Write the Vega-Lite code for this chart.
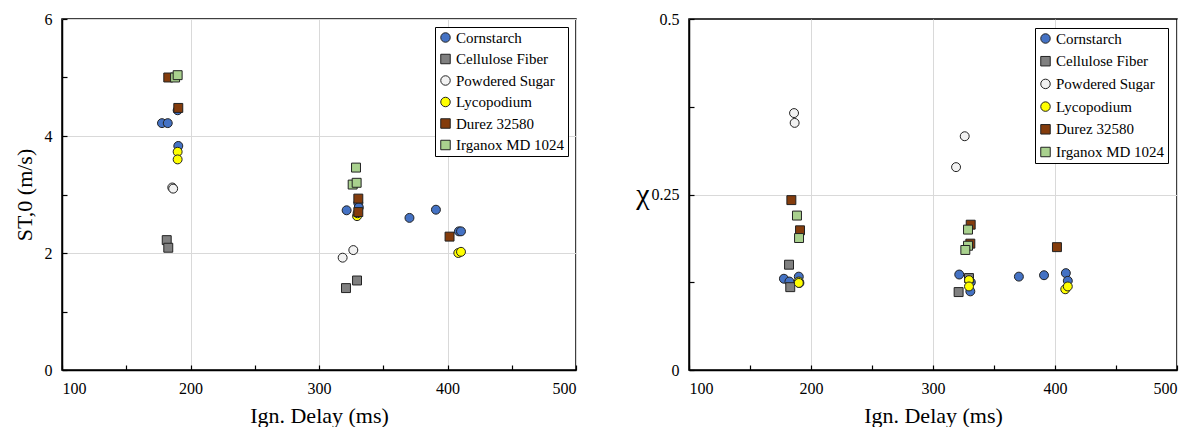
{
  "$schema": "https://vega.github.io/schema/vega-lite/v6.json",
  "padding": {"left": 12, "top": 10, "right": 5, "bottom": 0},
  "background": "white",
  "spacing": 56,
  "datasets": {
    "st": [
      {"material": "Cornstarch", "delay": 177.8, "value": 4.22},
      {"material": "Cornstarch", "delay": 182.3, "value": 4.22},
      {"material": "Cornstarch", "delay": 190.0, "value": 4.44},
      {"material": "Cornstarch", "delay": 190.5, "value": 3.83},
      {"material": "Cornstarch", "delay": 321.5, "value": 2.73},
      {"material": "Cornstarch", "delay": 330.6, "value": 2.85},
      {"material": "Cornstarch", "delay": 331.0, "value": 2.78},
      {"material": "Cornstarch", "delay": 370.4, "value": 2.60},
      {"material": "Cornstarch", "delay": 391.0, "value": 2.74},
      {"material": "Cornstarch", "delay": 408.9, "value": 2.37},
      {"material": "Cornstarch", "delay": 410.5, "value": 2.37},
      {"material": "Cellulose Fiber", "delay": 181.5, "value": 2.22},
      {"material": "Cellulose Fiber", "delay": 182.7, "value": 2.09},
      {"material": "Cellulose Fiber", "delay": 321.0, "value": 1.40},
      {"material": "Cellulose Fiber", "delay": 329.6, "value": 1.53},
      {"material": "Powdered Sugar", "delay": 185.8, "value": 3.12},
      {"material": "Powdered Sugar", "delay": 186.5, "value": 3.10},
      {"material": "Powdered Sugar", "delay": 318.4, "value": 1.92},
      {"material": "Powdered Sugar", "delay": 326.7, "value": 2.05},
      {"material": "Lycopodium", "delay": 190.0, "value": 3.73},
      {"material": "Lycopodium", "delay": 190.0, "value": 3.60},
      {"material": "Lycopodium", "delay": 329.6, "value": 2.63},
      {"material": "Lycopodium", "delay": 330.0, "value": 2.68},
      {"material": "Lycopodium", "delay": 408.4, "value": 2.00},
      {"material": "Lycopodium", "delay": 410.5, "value": 2.02},
      {"material": "Durez 32580", "delay": 182.7, "value": 5.00},
      {"material": "Durez 32580", "delay": 190.5, "value": 4.48},
      {"material": "Durez 32580", "delay": 330.6, "value": 2.93},
      {"material": "Durez 32580", "delay": 330.6, "value": 2.70},
      {"material": "Durez 32580", "delay": 401.6, "value": 2.28},
      {"material": "Irganox MD 1024", "delay": 188.0, "value": 5.00},
      {"material": "Irganox MD 1024", "delay": 190.0, "value": 5.04},
      {"material": "Irganox MD 1024", "delay": 328.8, "value": 3.46},
      {"material": "Irganox MD 1024", "delay": 326.2, "value": 3.17},
      {"material": "Irganox MD 1024", "delay": 329.3, "value": 3.20}
    ],
    "chi": [
      {"material": "Cornstarch", "delay": 177.8, "value": 0.130},
      {"material": "Cornstarch", "delay": 182.3, "value": 0.126},
      {"material": "Cornstarch", "delay": 190.0, "value": 0.133},
      {"material": "Cornstarch", "delay": 190.5, "value": 0.124},
      {"material": "Cornstarch", "delay": 321.5, "value": 0.136},
      {"material": "Cornstarch", "delay": 331.0, "value": 0.125},
      {"material": "Cornstarch", "delay": 330.6, "value": 0.112},
      {"material": "Cornstarch", "delay": 370.4, "value": 0.133},
      {"material": "Cornstarch", "delay": 391.0, "value": 0.135},
      {"material": "Cornstarch", "delay": 408.9, "value": 0.138},
      {"material": "Cornstarch", "delay": 410.5, "value": 0.127},
      {"material": "Cellulose Fiber", "delay": 182.0, "value": 0.150},
      {"material": "Cellulose Fiber", "delay": 183.0, "value": 0.118},
      {"material": "Cellulose Fiber", "delay": 321.0, "value": 0.111},
      {"material": "Cellulose Fiber", "delay": 329.5, "value": 0.131},
      {"material": "Powdered Sugar", "delay": 186.1, "value": 0.366},
      {"material": "Powdered Sugar", "delay": 186.6, "value": 0.352},
      {"material": "Powdered Sugar", "delay": 318.9, "value": 0.289},
      {"material": "Powdered Sugar", "delay": 326.0, "value": 0.333},
      {"material": "Lycopodium", "delay": 190.0, "value": 0.126},
      {"material": "Lycopodium", "delay": 190.0, "value": 0.124},
      {"material": "Lycopodium", "delay": 329.5, "value": 0.128},
      {"material": "Lycopodium", "delay": 329.5, "value": 0.119},
      {"material": "Lycopodium", "delay": 408.4, "value": 0.115},
      {"material": "Lycopodium", "delay": 410.5, "value": 0.119},
      {"material": "Durez 32580", "delay": 183.9, "value": 0.242},
      {"material": "Durez 32580", "delay": 191.0, "value": 0.199},
      {"material": "Durez 32580", "delay": 330.9, "value": 0.207},
      {"material": "Durez 32580", "delay": 330.6, "value": 0.180},
      {"material": "Durez 32580", "delay": 401.6, "value": 0.175},
      {"material": "Irganox MD 1024", "delay": 188.5, "value": 0.220},
      {"material": "Irganox MD 1024", "delay": 190.2, "value": 0.188},
      {"material": "Irganox MD 1024", "delay": 328.7, "value": 0.200},
      {"material": "Irganox MD 1024", "delay": 328.7, "value": 0.177},
      {"material": "Irganox MD 1024", "delay": 326.5, "value": 0.171}
    ]
  },
  "hconcat": [
    {
      "width": 514,
      "height": 351,
      "data": {"name": "st"},
      "mark": {"type": "point", "filled": true, "strokeWidth": 1, "size": 80, "opacity": 1},
      "encoding": {
        "x": {
          "field": "delay", "type": "quantitative",
          "scale": {"domain": [100, 500], "nice": false, "zero": false},
          "axis": {
            "title": "Ign. Delay (ms)",
            "values": [100, 150, 200, 250, 300, 350, 400, 450, 500],
            "labelExpr": "datum.value % 100 == 0 ? datum.label : ''",
            "gridOpacity": {"condition": {"test": "datum.value % 100 == 0", "value": 1}, "value": 0}
          }
        },
        "y": {
          "field": "value", "type": "quantitative",
          "scale": {"domain": [0, 6], "nice": false},
          "axis": {
            "title": "ST,0 (m/s)",
            "titlePadding": 8,
            "values": [0, 1, 2, 3, 4, 5, 6],
            "labelExpr": "datum.value % 2 == 0 ? datum.label : ''",
            "gridOpacity": {"condition": {"test": "datum.value % 2 == 0", "value": 1}, "value": 0}
          }
        },
        "fill": {
          "field": "material", "type": "nominal",
          "scale": {
            "domain": ["Cornstarch", "Cellulose Fiber", "Powdered Sugar", "Lycopodium", "Durez 32580", "Irganox MD 1024"],
            "range": ["#4472C4", "#808080", "#F2F2F2", "#FFFF00", "#843C0C", "#A9D18E"]
          },
          "legend": {"title": null, "labelFont": "Liberation Serif", "labelFontSize": 15, "rowPadding": 5.5, "offset": 8}
        },
        "shape": {
          "field": "material", "type": "nominal",
          "scale": {
            "domain": ["Cornstarch", "Cellulose Fiber", "Powdered Sugar", "Lycopodium", "Durez 32580", "Irganox MD 1024"],
            "range": ["circle", "square", "circle", "circle", "square", "square"]
          },
          "legend": {"title": null, "labelFont": "Liberation Serif", "labelFontSize": 15, "rowPadding": 5.5, "offset": 8}
        },
        "stroke": {
          "field": "material", "type": "nominal",
          "scale": {
            "domain": ["Cornstarch", "Cellulose Fiber", "Powdered Sugar", "Lycopodium", "Durez 32580", "Irganox MD 1024"],
            "range": ["#222222", "#222222", "#222222", "#222222", "#222222", "#222222"]
          },
          "legend": {"title": null, "labelFont": "Liberation Serif", "labelFontSize": 15, "rowPadding": 5.5, "offset": 8}
        }
      }
    },
    {
      "width": 488,
      "height": 351,
      "data": {"name": "chi"},
      "mark": {"type": "point", "filled": true, "strokeWidth": 1, "size": 80, "opacity": 1},
      "encoding": {
        "x": {
          "field": "delay", "type": "quantitative",
          "scale": {"domain": [100, 500], "nice": false, "zero": false},
          "axis": {
            "title": "Ign. Delay (ms)",
            "values": [100, 150, 200, 250, 300, 350, 400, 450, 500],
            "labelExpr": "datum.value % 100 == 0 ? datum.label : ''",
            "gridOpacity": {"condition": {"test": "datum.value % 100 == 0", "value": 1}, "value": 0}
          }
        },
        "y": {
          "field": "value", "type": "quantitative",
          "scale": {"domain": [0, 0.5], "nice": false},
          "axis": {
            "title": "χ",
            "titleAngle": 0,
            "titleFontSize": 30,
            "titleBaseline": "middle",
            "titleAlign": "right",
            "titlePadding": 2,
            "format": ".2~f",
            "values": [0, 0.125, 0.25, 0.375, 0.5],
            "labelExpr": "(datum.value == 0 || datum.value == 0.25 || datum.value == 0.5) ? datum.label : ''",
            "gridOpacity": {"condition": {"test": "datum.value == 0.25", "value": 1}, "value": 0}
          }
        },
        "fill": {
          "field": "material", "type": "nominal",
          "scale": {
            "domain": ["Cornstarch", "Cellulose Fiber", "Powdered Sugar", "Lycopodium", "Durez 32580", "Irganox MD 1024"],
            "range": ["#4472C4", "#808080", "#F2F2F2", "#FFFF00", "#843C0C", "#A9D18E"]
          },
          "legend": {"title": null, "labelFont": "Liberation Serif", "labelFontSize": 15, "rowPadding": 6.7, "offset": 9}
        },
        "shape": {
          "field": "material", "type": "nominal",
          "scale": {
            "domain": ["Cornstarch", "Cellulose Fiber", "Powdered Sugar", "Lycopodium", "Durez 32580", "Irganox MD 1024"],
            "range": ["circle", "square", "circle", "circle", "square", "square"]
          },
          "legend": {"title": null, "labelFont": "Liberation Serif", "labelFontSize": 15, "rowPadding": 6.7, "offset": 9}
        },
        "stroke": {
          "field": "material", "type": "nominal",
          "scale": {
            "domain": ["Cornstarch", "Cellulose Fiber", "Powdered Sugar", "Lycopodium", "Durez 32580", "Irganox MD 1024"],
            "range": ["#222222", "#222222", "#222222", "#222222", "#222222", "#222222"]
          },
          "legend": {"title": null, "labelFont": "Liberation Serif", "labelFontSize": 15, "rowPadding": 6.7, "offset": 9}
        }
      }
    }
  ],
  "resolve": {"scale": {"fill": "independent", "shape": "independent", "stroke": "independent", "x": "independent", "y": "independent"}, "legend": {"fill": "independent", "shape": "independent", "stroke": "independent"}},
  "config": {
    "view": {"stroke": "black", "strokeWidth": 1.5},
    "font": "Liberation Serif",
    "style": {"guide-label": {"font": "Liberation Serif"}, "guide-title": {"font": "Liberation Serif"}},
    "axis": {
      "domainColor": "black",
      "domainWidth": 1.5,
      "tickColor": "black",
      "tickSize": -5,
      "tickWidth": 1.2,
      "labelFont": "Liberation Serif",
      "labelFontSize": 16,
      "labelColor": "black",
      "labelPadding": 15,
      "titleFont": "Liberation Serif",
      "titleFontSize": 22,
      "titleFontWeight": "normal",
      "titleColor": "black",
      "titlePadding": 3,
      "gridColor": "#d9d9d9",
      "gridWidth": 1
    },
    "axisX": {"titlePadding": 9},
    "legend": {
      "orient": "top-right",
      "offset": 8,
      "strokeColor": "black",
      "fillColor": "white",
      "padding": 3,
      "labelFont": "Liberation Serif",
      "labelFontSize": 15,
      "labelColor": "black",
      "labelOffset": 3,
      "symbolSize": 90,
      "symbolStrokeWidth": 1,
      "rowPadding": 6,
      "cornerRadius": 0
    }
  }
}
